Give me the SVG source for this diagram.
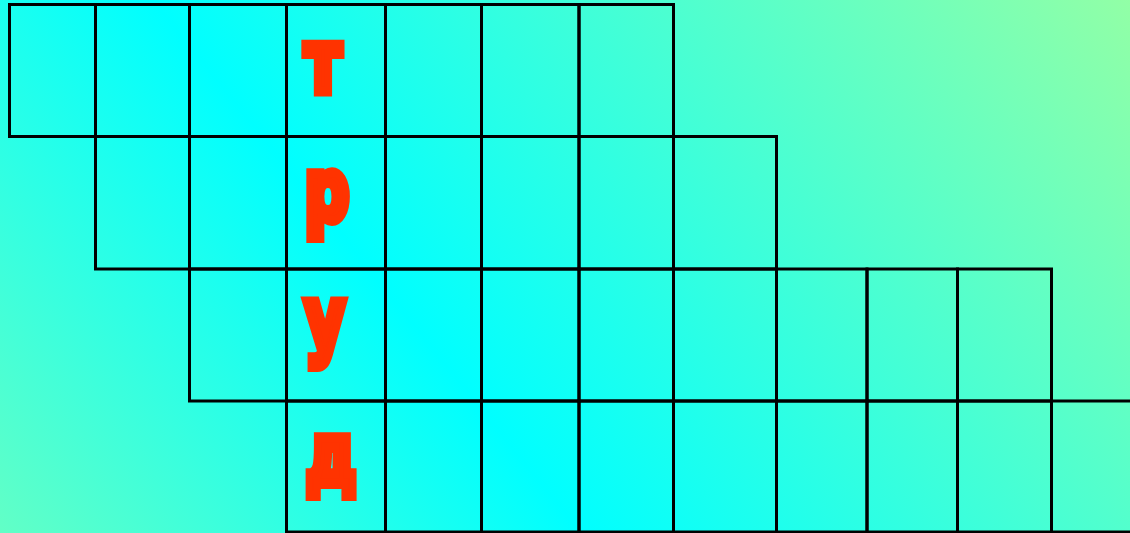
<svg xmlns="http://www.w3.org/2000/svg" width="1130" height="533" viewBox="0 0 1130 533">
  <defs>
    <linearGradient id="bg" gradientUnits="userSpaceOnUse" x1="177" y1="754" x2="1124" y2="-7">
      <stop offset="0" stop-color="#62FFC6"/>
      <stop offset="0.373" stop-color="#00FFFF"/>
      <stop offset="1" stop-color="#92FFA6"/>
    </linearGradient>
  </defs>
  <style>
    .cell { fill: none; stroke: #000; stroke-width: 3; }
    .ltr { font-family: "DejaVu Sans", "Liberation Sans", sans-serif; font-weight: bold; font-size: 86px; fill: #FF3300; stroke: #FF3300; stroke-width: 10; stroke-linejoin: miter; text-anchor: middle; }
  </style>
  <rect x="0" y="0" width="1130" height="533" fill="url(#bg)"/>

  <g id="row1">
    <rect class="cell" x="9.5" y="4.5" width="86" height="132"/>
    <rect class="cell" x="95.5" y="4.5" width="94" height="132"/>
    <rect class="cell" x="189.5" y="4.5" width="97" height="132"/>
    <rect class="cell" x="286.5" y="4.5" width="99" height="132"/>
    <rect class="cell" x="385.5" y="4.5" width="96" height="132"/>
    <rect class="cell" x="481.5" y="4.5" width="97.5" height="132"/>
    <rect class="cell" x="579" y="4.5" width="94.5" height="132"/>
  </g>
  <g id="row2">
    <rect class="cell" x="95.5" y="136.5" width="94" height="132.5"/>
    <rect class="cell" x="189.5" y="136.5" width="97" height="132.5"/>
    <rect class="cell" x="286.5" y="136.5" width="99" height="132.5"/>
    <rect class="cell" x="385.5" y="136.5" width="96" height="132.5"/>
    <rect class="cell" x="481.5" y="136.5" width="97.5" height="132.5"/>
    <rect class="cell" x="579" y="136.5" width="94.5" height="132.5"/>
    <rect class="cell" x="673.5" y="136.5" width="103" height="132.5"/>
  </g>
  <g id="row3">
    <rect class="cell" x="189.5" y="269" width="97" height="132"/>
    <rect class="cell" x="286.5" y="269" width="99" height="132"/>
    <rect class="cell" x="385.5" y="269" width="96" height="132"/>
    <rect class="cell" x="481.5" y="269" width="97.5" height="132"/>
    <rect class="cell" x="579" y="269" width="94.5" height="132"/>
    <rect class="cell" x="673.5" y="269" width="103" height="132"/>
    <rect class="cell" x="776.5" y="269" width="90.5" height="132"/>
    <rect class="cell" x="867" y="269" width="90.5" height="132"/>
    <rect class="cell" x="957.5" y="269" width="94" height="132"/>
  </g>
  <g id="row4">
    <rect class="cell" x="286.5" y="401" width="99" height="131"/>
    <rect class="cell" x="385.5" y="401" width="96" height="131"/>
    <rect class="cell" x="481.5" y="401" width="97.5" height="131"/>
    <rect class="cell" x="579" y="401" width="94.5" height="131"/>
    <rect class="cell" x="673.5" y="401" width="103" height="131"/>
    <rect class="cell" x="776.5" y="401" width="90.5" height="131"/>
    <rect class="cell" x="867" y="401" width="90.5" height="131"/>
    <rect class="cell" x="957.5" y="401" width="94" height="131"/>
    <rect class="cell" x="1051.5" y="401" width="100" height="131"/>
  </g>

  <g id="letters">
    <text class="ltr" transform="translate(323 92) scale(0.73 1)">т</text>
    <text class="ltr" transform="translate(327 220) scale(0.72 1)">р</text>
    <text class="ltr" transform="translate(325 349) scale(0.71 1)">у</text>
    <text class="ltr" transform="translate(331 484) scale(0.73 1)">д</text>
  </g>
</svg>
